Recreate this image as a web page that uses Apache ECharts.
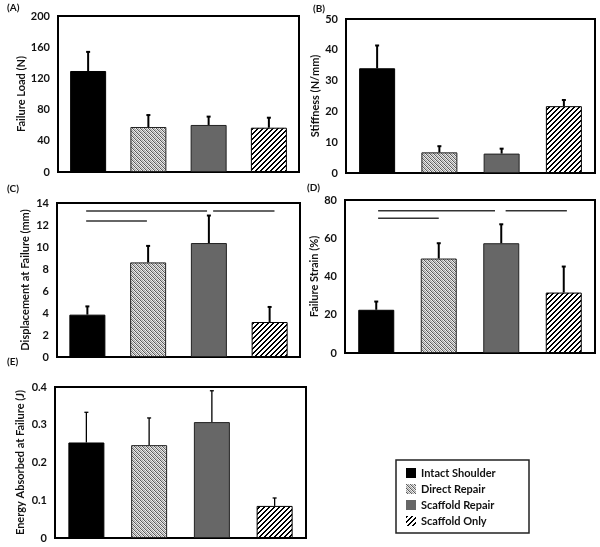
<!DOCTYPE html>
<html><head><meta charset="utf-8">
<script src="https://cdn.jsdelivr.net/npm/echarts@6/dist/echarts.min.js"></script>
<style>html,body{margin:0;padding:0;background:#fff}#c{width:600px;height:547px}</style>
</head><body><div id="c"></div>
<script>
const groups = ['Intact Shoulder', 'Direct Repair', 'Scaffold Repair', 'Scaffold Only'];

const failureLoad = [129.5, 57.7, 60.3, 56.8];
const failureLoadSD = [24.5, 15.3, 10.7, 12.8];
const stiffness = [34.0, 6.7, 6.3, 21.7];
const stiffnessSD = [7.4, 2.0, 1.6, 2.0];
const displacement = [3.85, 8.6, 10.36, 3.18];
const displacementSD = [0.75, 1.5, 2.5, 1.37];
const failureStrain = [22.6, 49.4, 57.4, 31.6];
const failureStrainSD = [4.3, 8.0, 9.9, 13.6];
const energy = [0.253, 0.246, 0.307, 0.085];
const energySD = [0.080, 0.072, 0.083, 0.021];

// significance bars: [x start, x end, y] in category-index units
const sigLinesC = [[-0.02, 1.97, 13.27], [2.07, 3.08, 13.27], [-0.02, 0.98, 12.36]];
const sigLinesD = [[0.03, 1.9, 74.4], [2.07, 3.05, 74.4], [0.03, 1.0, 70.4]];

const yTicksA = [0, 200, 40];
const yTicksB = [0, 50, 10];
const yTicksC = [0, 14, 2];
const yTicksD = [0, 80, 20];
const yTicksE = [0, 0.4, 0.1];

function makePattern(kind) {
  const n = kind === 'dense' ? 4 : 5;
  const cv = document.createElement('canvas');
  cv.width = n; cv.height = n;
  const ctx = cv.getContext('2d');
  for (let x = 0; x < n; x++) for (let y = 0; y < n; y++) {
    let c;
    if (kind === 'dense') {
      const d = (x - y + n) % n;
      c = ['#5a5a5a', '#d4d4d4', '#a2a2a2', '#f2f2f2'][d];
    } else {
      const d = (x + y) % n;
      c = (d === 0 || d === 1) ? '#000' : '#fff';
    }
    ctx.fillStyle = c; ctx.fillRect(x, y, 1, 1);
  }
  return { image: cv, repeat: 'repeat' };
}

const groupStyles = [
  { color: '#000', borderColor: '#000', borderWidth: 1 },
  { color: makePattern('dense'), borderColor: '#222', borderWidth: 1 },
  { color: '#676767', borderColor: '#222', borderWidth: 1 },
  { color: makePattern('stripes'), borderColor: '#000', borderWidth: 1 }
];

const panels = [
  { label: '(A)', name: 'Failure Load (N)', values: failureLoad, sd: failureLoadSD, ticks: yTicksA, sig: [],
    grid: { left: 58, top: 16, width: 241, height: 156 }, nameGap: 30, lab: [7, 3], ew: 2 },
  { label: '(B)', name: 'Stiffness (N/mm)', values: stiffness, sd: stiffnessSD, ticks: yTicksB, sig: [],
    grid: { left: 346, top: 19, width: 249, height: 154 }, nameGap: 25, lab: [313, 4], ew: 2 },
  { label: '(C)', name: 'Displacement at Failure (mm)', values: displacement, sd: displacementSD, ticks: yTicksC, sig: sigLinesC,
    grid: { left: 57, top: 203, width: 243, height: 154 }, nameGap: 26, lab: [7, 184], ew: 2 },
  { label: '(D)', name: 'Failure Strain (%)', values: failureStrain, sd: failureStrainSD, ticks: yTicksD, sig: sigLinesD,
    grid: { left: 345, top: 200, width: 250, height: 153 }, nameGap: 24, lab: [307, 183], ew: 2 },
  { label: '(E)', name: 'Energy Absorbed at Failure (J)', values: energy, sd: energySD, ticks: yTicksE, sig: [],
    grid: { left: 55, top: 387, width: 251, height: 151 }, nameGap: 29, lab: [7, 357], ew: 1.3 }
];

const font = 'Lato, "Open Sans", sans-serif';
const grids = [], xAxes = [], yAxes = [], series = [], graphics = [];
const np = panels.length;

panels.forEach((p, k) => {
  grids.push(Object.assign({ show: true, borderColor: '#000', borderWidth: 2, backgroundColor: 'transparent' }, p.grid));
  xAxes.push({ type: 'category', gridIndex: k, data: groups, axisLine: { show: true, onZero: false, lineStyle: { color: '#000', width: 2 } },
    axisTick: { show: false }, axisLabel: { show: false } });
  yAxes.push({ type: 'value', gridIndex: k, min: p.ticks[0], max: p.ticks[1], interval: p.ticks[2],
    name: p.name, nameLocation: 'middle', nameGap: p.nameGap, nameRotate: 90,
    nameTextStyle: { fontFamily: font, fontWeight: 'bold', fontSize: 11, color: '#111' },
    axisLine: { show: true, onZero: false, lineStyle: { color: '#000', width: 2 } }, axisTick: { show: false },
    splitLine: { show: false },
    axisLabel: { fontFamily: font, fontWeight: 'bold', fontSize: 11, color: '#111', margin: 8 } });
  groups.forEach((g, gi) => {
    series.push({ type: 'bar', name: g, xAxisIndex: k, yAxisIndex: k, barWidth: 36, barGap: '-100%',
      itemStyle: groupStyles[gi], silent: true, animation: false,
      data: p.values.map((v, i) => i === gi ? v : '-') });
  });
  series.push({ type: 'custom', xAxisIndex: k, yAxisIndex: k, z: 5, animation: false, silent: true,
    encode: { x: 0, y: 1 },
    data: p.values.map((v, i) => [i, v, p.sd[i]]),
    renderItem: (params, api) => {
      const i = api.value(0), v = api.value(1), e = api.value(2);
      const a = api.coord([i, v]), b = api.coord([i, v + e]);
      const st = { stroke: '#000', lineWidth: p.ew };
      return { type: 'group', children: [
        { type: 'line', shape: { x1: a[0], y1: a[1], x2: b[0], y2: b[1] }, style: st },
        { type: 'line', shape: { x1: b[0] - 2, y1: b[1], x2: b[0] + 2, y2: b[1] }, style: st }
      ] };
    } });
  graphics.push({ type: 'text', left: p.lab[0], top: p.lab[1],
    style: { text: p.label, font: 'bold 10px ' + font, fill: '#111' } });
});

// hidden value x-axes for significance lines
panels.forEach((p, k) => {
  xAxes.push({ type: 'value', gridIndex: k, min: -0.5, max: 3.5, show: false, axisLine: { show: false, onZero: false } });
  p.sig.forEach(s => {
    series.push({ type: 'line', xAxisIndex: np + k, yAxisIndex: k, symbol: 'none', silent: true, animation: false,
      lineStyle: { color: '#333', width: 1.5 }, data: [[s[0], s[2]], [s[1], s[2]]] });
  });
});

graphics.push({ type: 'rect', shape: { x: 396, y: 460, width: 133, height: 73 },
  style: { fill: '#fff', stroke: '#222', lineWidth: 1.5 }, z: -1 });

const chart = echarts.init(document.getElementById('c'), null, { renderer: 'canvas' });
chart.setOption({
  animation: false,
  backgroundColor: '#fff',
  grid: grids, xAxis: xAxes, yAxis: yAxes, series: series,
  graphic: { elements: graphics },
  legend: { data: groups, orient: 'vertical', left: 406, top: 467, icon: 'rect', itemWidth: 10, itemHeight: 10,
    itemGap: 4, padding: 0, selectedMode: false, itemStyle: { borderWidth: 0 },
    textStyle: { fontFamily: font, fontWeight: 'bold', fontSize: 11, color: '#111', lineHeight: 12 } }
});
</script></body></html>
